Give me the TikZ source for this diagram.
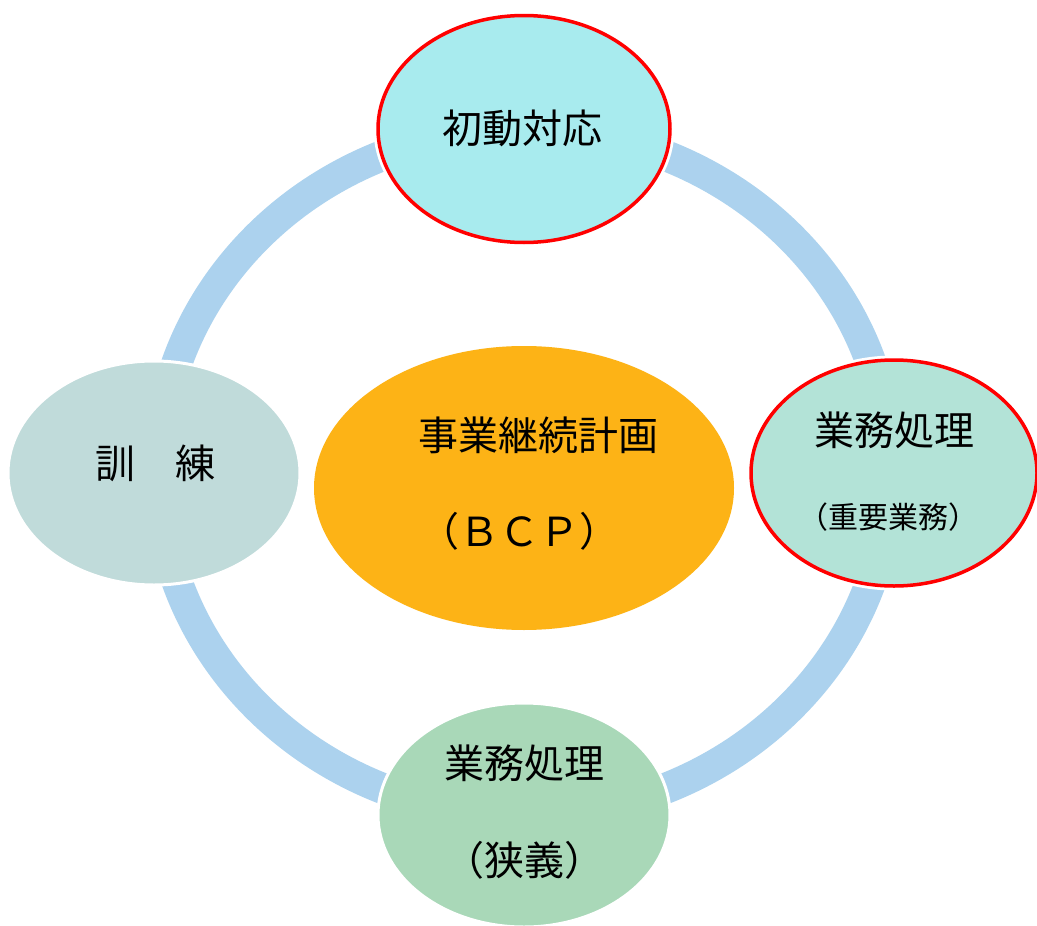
\documentclass[tikz,border=0pt]{standalone}
\usepackage{fontspec}
\setmainfont{Noto Sans CJK JP}
\usetikzlibrary{shapes.geometric}
\definecolor{ringc}{HTML}{ACD2EE}
\definecolor{topc}{HTML}{A8EBEE}
\definecolor{leftc}{HTML}{C0DBDA}
\definecolor{rightc}{HTML}{B3E3D7}
\definecolor{botc}{HTML}{A9D8B8}
\definecolor{midc}{HTML}{FDB316}
\begin{document}
\begin{tikzpicture}[x=1pt,y=-1pt,
  blob/.style={ellipse, inner sep=0pt, draw=white, line width=3pt},
  redblob/.style={ellipse, inner sep=0pt, draw=red, line width=3.5pt,
     preaction={draw=white, line width=9pt}},
  big/.style={font=\fontsize{40}{48}\selectfont, inner sep=0pt},
  small/.style={font=\fontsize{30}{36}\selectfont, inner sep=0pt}]
\useasboundingbox (0,0) rectangle (1037,926);
\fill[white] (0,0) rectangle (1037,926);
\coordinate (c) at (524,472);
\draw[ringc, line width=31pt] (c) ellipse [x radius=366, y radius=343];
\node[redblob, fill=topc, minimum width=292pt, minimum height=227pt] (top) at (524,129) {};
\node[blob, fill=leftc, minimum width=292pt, minimum height=224pt] (left) at (154,473) {};
\node[redblob, fill=rightc, minimum width=286pt, minimum height=226pt] (right) at (894,473) {};
\node[blob, fill=botc, minimum width=292pt, minimum height=224pt] (bot) at (524,815) {};
\node[ellipse, inner sep=0pt, fill=midc, minimum width=420pt, minimum height=284pt] (mid) at (524,488) {};
\node[big] (t1) at (522,128) {初動対応};
\node[big] (l1) at (155,463) {訓　練};
\node[big] (r1) at (894,430) {業務処理};
\node[small] (r2) at (888,517) {（重要業務）};
\node[big] (b1) at (524,763) {業務処理};
\node[big] (b2) at (524,860) {（狭義）};
\node[big] (m1) at (538,435) {事業継続計画};
\node[big] (m2) at (519,531) {（ＢＣＰ）};
\end{tikzpicture}
\end{document}
